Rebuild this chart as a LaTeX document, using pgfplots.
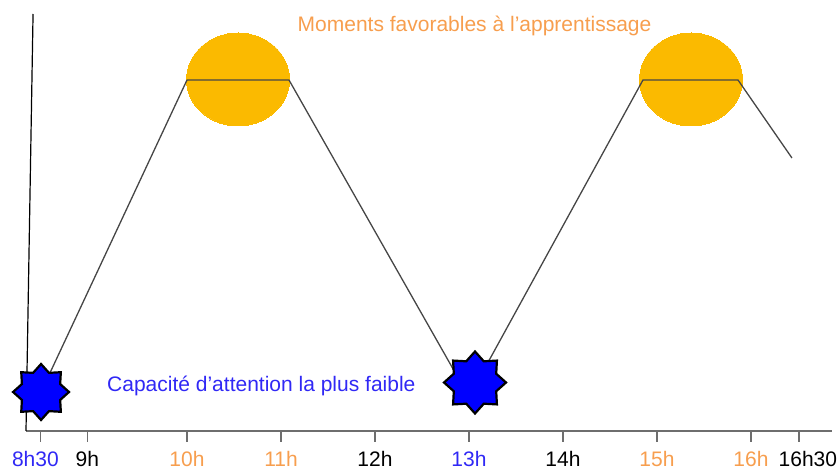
\documentclass[border=0pt]{standalone}
\usepackage{fontspec}
\setmainfont{Liberation Sans}
\usepackage{pgfplots}
\pgfplotsset{compat=1.18}

\definecolor{sunfill}{RGB}{251,186,0}
\definecolor{torange}{RGB}{247,158,78}
\definecolor{tblue}{RGB}{48,40,245}
\definecolor{starblue}{RGB}{0,0,255}
\definecolor{linegray}{RGB}{70,70,70}
\definecolor{axisgray}{RGB}{110,110,110}

% eight-pointed star, one point up
\pgfdeclareplotmark{star8}{%
  \pgfpathmoveto{\pgfpointpolar{90}{\pgfplotmarksize}}%
  \pgfpathlineto{\pgfpointpolar{112.5}{0.74*\pgfplotmarksize}}%
  \pgfpathlineto{\pgfpointpolar{135}{\pgfplotmarksize}}%
  \pgfpathlineto{\pgfpointpolar{157.5}{0.74*\pgfplotmarksize}}%
  \pgfpathlineto{\pgfpointpolar{180}{\pgfplotmarksize}}%
  \pgfpathlineto{\pgfpointpolar{202.5}{0.74*\pgfplotmarksize}}%
  \pgfpathlineto{\pgfpointpolar{225}{\pgfplotmarksize}}%
  \pgfpathlineto{\pgfpointpolar{247.5}{0.74*\pgfplotmarksize}}%
  \pgfpathlineto{\pgfpointpolar{270}{\pgfplotmarksize}}%
  \pgfpathlineto{\pgfpointpolar{292.5}{0.74*\pgfplotmarksize}}%
  \pgfpathlineto{\pgfpointpolar{315}{\pgfplotmarksize}}%
  \pgfpathlineto{\pgfpointpolar{337.5}{0.74*\pgfplotmarksize}}%
  \pgfpathlineto{\pgfpointpolar{0}{\pgfplotmarksize}}%
  \pgfpathlineto{\pgfpointpolar{22.5}{0.74*\pgfplotmarksize}}%
  \pgfpathlineto{\pgfpointpolar{45}{\pgfplotmarksize}}%
  \pgfpathlineto{\pgfpointpolar{67.5}{0.74*\pgfplotmarksize}}%
  \pgfpathclose
  \pgfusepathqfillstroke
}

\begin{document}
\begin{tikzpicture}
\useasboundingbox (-26pt,-38pt) rectangle (813pt,431pt);
\begin{axis}[
  at={(0,0)}, anchor=south west,
  scale only axis, width=806pt, height=417pt,
  xmin=8.287, xmax=16.862, ymin=0, ymax=417,
  clip=false, clip marker paths=true,
  axis x line=bottom, axis y line=none,
  x axis line style={-, draw=axisgray, line width=1.2pt},
  xtick={8.44,8.94,10,11,12,13,14,15,16,16.51},
  xticklabels={\textcolor{tblue}{8h30}\hspace*{10pt},9h,\textcolor{torange}{10h},\textcolor{torange}{11h},12h,
    \textcolor{tblue}{13h},14h,\textcolor{torange}{15h},\textcolor{torange}{16h},\hspace*{18pt}16h30},
  ytick=\empty,
  tick align=outside, major tick length=11pt,
  xtick style={draw=axisgray, line width=1.2pt},
  xticklabel style={font=\fontsize{21}{25}\selectfont, text=black, inner sep=0pt, anchor=base, yshift=-24pt},
]
% sloping left axis line
\addplot[black, line width=1.2pt] coordinates {(8.287,0) (8.362,417)};

% favourable moments
\addplot[only marks, mark=*, mark size=46.5pt,
  mark options={fill=sunfill, draw=sunfill, line width=0pt, xscale=1.108}]
  coordinates {(10.543,351.5) (15.362,351.5)};

% attention curve
\addplot[draw=linegray, line width=1.3pt, line join=round, mark=none]
  coordinates {(8.447,39) (10,351) (11.085,351) (13.0,34) (14.851,351) (15.862,351) (16.436,273)};

% low points
\addplot[only marks, mark=star8, mark size=28pt,
  mark options={fill=starblue, draw=black, line width=2.2pt}]
  coordinates {(8.447,39)};
\addplot[only marks, mark=star8, mark size=31pt,
  mark options={fill=starblue, draw=black, line width=2.2pt}]
  coordinates {(13.064,48.5)};

\node[anchor=base, inner sep=0pt, text=torange, font=\fontsize{21}{25}\selectfont]
  at (axis cs:13.059,399) {Moments favorables à l’apprentissage};
\node[anchor=base west, inner sep=0pt, text=tblue, font=\fontsize{21}{25}\selectfont]
  at (axis cs:9.149,39) {Capacité d’attention la plus faible};
\end{axis}
\end{tikzpicture}
\end{document}
